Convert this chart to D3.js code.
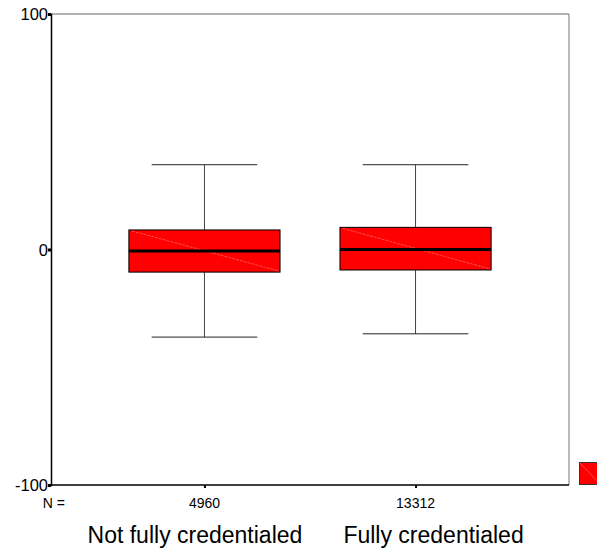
<!DOCTYPE html>
<html>
<head>
<meta charset="utf-8">
<script src="https://cdn.jsdelivr.net/npm/d3@7"></script>
<style>
  body { margin: 0; background: #fff; }
  svg { font-family: "Liberation Sans", Arial, sans-serif; display: block; }
</style>
</head>
<body>
<div id="chart"></div>
<script>
// Data
const groups = ["Not fully credentialed", "Fully credentialed"];
const counts = [4960, 13312];
const whiskerLow = [-37.2, -35.8];
const q1 = [-9.6, -8.7];
const median = [-0.6, 0.0];
const q3 = [8.3, 9.4];
const whiskerHigh = [36.0, 36.0];
const yTicks = [-100, 0, 100];

const width = 597, height = 550;
const plot = { left: 51, right: 569, top: 14, bottom: 485 };

const svg = d3.select("#chart").append("svg")
    .attr("width", width)
    .attr("height", height);

const x = d3.scalePoint()
    .domain(groups)
    .range([plot.left, plot.right])
    .padding(0.727);

const y = d3.scaleLinear()
    .domain([-100, 100])
    .range([plot.bottom, plot.top]);

const step = x.step();
const boxW = step * 0.716;
const capW = step * 0.5;

// frame: top and right in grey, left and bottom in black
svg.append("line")
    .attr("x1", plot.left).attr("x2", plot.right)
    .attr("y1", plot.top).attr("y2", plot.top)
    .attr("stroke", "#666").attr("stroke-width", 1);
svg.append("line")
    .attr("x1", plot.right).attr("x2", plot.right)
    .attr("y1", plot.top).attr("y2", plot.bottom)
    .attr("stroke", "#777").attr("stroke-width", 1);

// y axis
const yAxis = svg.append("g")
    .attr("transform", `translate(${plot.left},0)`)
    .call(d3.axisLeft(y).tickValues(yTicks).tickSize(3).tickFormat(d => String(d)));
yAxis.select(".domain").attr("stroke", "#000").attr("stroke-width", 1.5);
yAxis.selectAll(".tick line").attr("stroke", "#000").attr("stroke-width", 3);
yAxis.selectAll(".tick text")
    .attr("x", -3)
    .attr("dy", "0.36em")
    .style("font-size", "16.5px")
    .style("fill", "#000");

// x axis with small category ticks
const xAxis = svg.append("g")
    .attr("transform", `translate(0,${plot.bottom})`)
    .call(d3.axisBottom(x).tickSize(3).tickFormat(""));
xAxis.select(".domain").remove();
xAxis.selectAll(".tick line").attr("stroke", "#000").attr("stroke-width", 2);
svg.append("line")
    .attr("x1", plot.left - 1).attr("x2", plot.right)
    .attr("y1", plot.bottom).attr("y2", plot.bottom)
    .attr("stroke", "#000").attr("stroke-width", 1.5);

// boxes
const data = groups.map((g, i) => ({
    g, n: counts[i], lo: whiskerLow[i], q1: q1[i], med: median[i], q3: q3[i], hi: whiskerHigh[i]
}));

const box = svg.selectAll(".box")
    .data(data)
    .enter().append("g")
    .attr("class", "box");

// whisker stems
box.append("line")
    .attr("x1", d => x(d.g)).attr("x2", d => x(d.g))
    .attr("y1", d => y(d.hi)).attr("y2", d => y(d.q3))
    .attr("stroke", "#444");
box.append("line")
    .attr("x1", d => x(d.g)).attr("x2", d => x(d.g))
    .attr("y1", d => y(d.q1)).attr("y2", d => y(d.lo))
    .attr("stroke", "#444");

// caps
box.append("line")
    .attr("x1", d => x(d.g) - capW / 2).attr("x2", d => x(d.g) + capW / 2)
    .attr("y1", d => y(d.hi)).attr("y2", d => y(d.hi))
    .attr("stroke", "#222");
box.append("line")
    .attr("x1", d => x(d.g) - capW / 2).attr("x2", d => x(d.g) + capW / 2)
    .attr("y1", d => y(d.lo)).attr("y2", d => y(d.lo))
    .attr("stroke", "#222");

// box body
box.append("rect")
    .attr("x", d => x(d.g) - boxW / 2)
    .attr("y", d => y(d.q3))
    .attr("width", boxW)
    .attr("height", d => y(d.q1) - y(d.q3))
    .attr("fill", "#ff0000")
    .attr("stroke", "#000")
    .attr("stroke-width", 1);

// faint diagonal
box.append("line")
    .attr("x1", d => x(d.g) - boxW / 2 + 3).attr("y1", d => y(d.q3) + 1)
    .attr("x2", d => x(d.g) + boxW / 2 - 1).attr("y2", d => y(d.q1) - 1)
    .attr("stroke", "#ff8080").attr("stroke-width", 0.6)
    .attr("stroke-dasharray", "3,1");

// median
box.append("line")
    .attr("x1", d => x(d.g) - boxW / 2).attr("x2", d => x(d.g) + boxW / 2)
    .attr("y1", d => y(d.med)).attr("y2", d => y(d.med))
    .attr("stroke", "#000").attr("stroke-width", 3);

// N row
svg.append("text")
    .attr("x", 65).attr("y", 508)
    .attr("text-anchor", "end")
    .style("font-size", "14px")
    .text("N =");
svg.selectAll(".ntext")
    .data(data)
    .enter().append("text")
    .attr("class", "ntext")
    .attr("x", d => x(d.g)).attr("y", 508)
    .attr("text-anchor", "middle")
    .style("font-size", "14px")
    .text(d => d.n);

// category labels (the original sets them slightly off the box centres)
const labelShift = [-9.5, 18];
svg.selectAll(".cat")
    .data(data)
    .enter().append("text")
    .attr("class", "cat")
    .attr("x", (d, i) => x(d.g) + labelShift[i]).attr("y", 543)
    .attr("text-anchor", "middle")
    .style("font-size", "23px")
    .text(d => d.g);

// legend swatch, cut off by the window edge
svg.append("rect")
    .attr("x", 579.5).attr("y", 462.5)
    .attr("width", 22).attr("height", 22)
    .attr("fill", "#ff0000")
    .attr("stroke", "#333");
svg.append("line")
    .attr("x1", 580).attr("y1", 463).attr("x2", 600).attr("y2", 484)
    .attr("stroke", "#ff8080").attr("stroke-width", 0.6);
</script>
</body>
</html>
